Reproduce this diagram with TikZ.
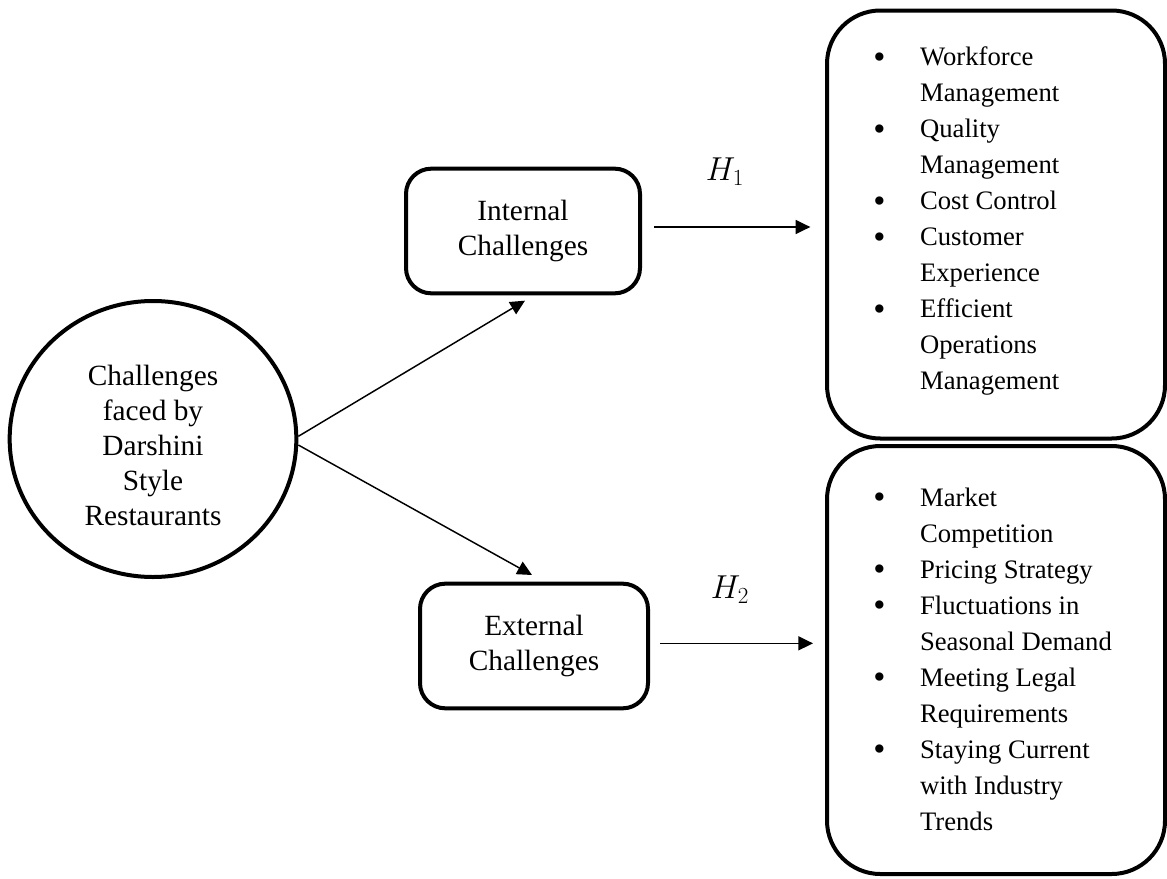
\documentclass[tikz,border=0pt]{standalone}
\usepackage{fontspec}
\usepackage{graphicx}
\setmainfont{Liberation Serif}
\usetikzlibrary{arrows.meta,shapes.geometric}

% bigger list bullet
\newcommand{\listdot}{\raisebox{-1.8pt}[0pt][0pt]{\scalebox{1.3}{\textbullet}}}

\begin{document}
\begin{tikzpicture}[x=0.75pt, y=-0.75pt,
    every node/.style={font=\fontsize{22pt}{26pt}\selectfont},
    mainshape/.style={draw, line width=3pt, ellipse,
        minimum width=215pt, minimum height=207pt, inner sep=0pt},
    maintext/.style={align=center, inner sep=0pt, font=\fontsize{22pt}{26.25pt}\selectfont},
    catbox/.style={draw, line width=3pt, rounded corners=19pt, align=center,
        minimum height=93.5pt},
    listbox/.style={draw, line width=3pt, rounded corners=40pt,
        minimum width=253.5pt, minimum height=321pt},
    listtext/.style={anchor=west, inner sep=0pt, font=\fontsize{20pt}{27pt}\selectfont},
    hlabel/.style={inner sep=1pt, font=\fontsize{26pt}{30pt}\selectfont},
    link/.style={line width=1.1pt, -{Triangle[length=11pt,width=10.5pt]}}
]
    % Page frame
    \useasboundingbox (0,0) rectangle (1167,878);

    % Central concept
    \node[mainshape] (circ) at (153,439) {};
    \node[maintext] (circtext) at (153,445) {Challenges\\faced by\\Darshini\\Style\\Restaurants};

    % Two groups of challenges
    \node[catbox, minimum width=175.5pt] (int) at (523,231) {Internal\\Challenges};
    \node[catbox, minimum width=171pt] (ext) at (534,646) {External\\Challenges};

    % Lists on the right
    \node[listbox] (intlist) at (996,224.5) {};
    \node[listbox] (extlist) at (996,660) {};

    \node[listtext] (intitems) at ([xshift=36pt,yshift=3pt]intlist.west) {%
        \begin{tabular}{@{}l@{\hspace{26pt}}l@{}}
        \listdot & Workforce\\
                 & Management\\
        \listdot & Quality\\
                 & Management\\
        \listdot & Cost Control\\
        \listdot & Customer\\
                 & Experience\\
        \listdot & Efficient\\
                 & Operations\\
                 & Management
        \end{tabular}};

    \node[listtext] (extitems) at ([xshift=36pt,yshift=-1pt]extlist.west) {%
        \begin{tabular}{@{}l@{\hspace{26pt}}l@{}}
        \listdot & Market\\
                 & Competition\\
        \listdot & Pricing Strategy\\
        \listdot & Fluctuations in\\
                 & Seasonal Demand\\
        \listdot & Meeting Legal\\
                 & Requirements\\
        \listdot & Staying Current\\
                 & with Industry\\
                 & Trends
        \end{tabular}};

    % Arrows
    \draw[link] ([yshift=2pt]circ.east) -- ([xshift=1.5pt,yshift=-4pt]int.south);
    \draw[link] ([yshift=-4.5pt]circ.east) -- ([xshift=-1.5pt,yshift=5pt]ext.north);
    \draw[link, shorten <=9pt, shorten >=11pt] ([yshift=3pt]int.east) -- ([yshift=3pt]int.east -| intlist.west);
    \draw[link, shorten <=7.5pt, shorten >=9pt] ([yshift=2pt]ext.east) -- ([yshift=2pt]ext.east -| extlist.west);

    % Hypothesis labels
    \node[hlabel] (h1) at (725,172) {$H_1$};
    \node[hlabel] (h2) at (730,590) {$H_2$};
\end{tikzpicture}
\end{document}
